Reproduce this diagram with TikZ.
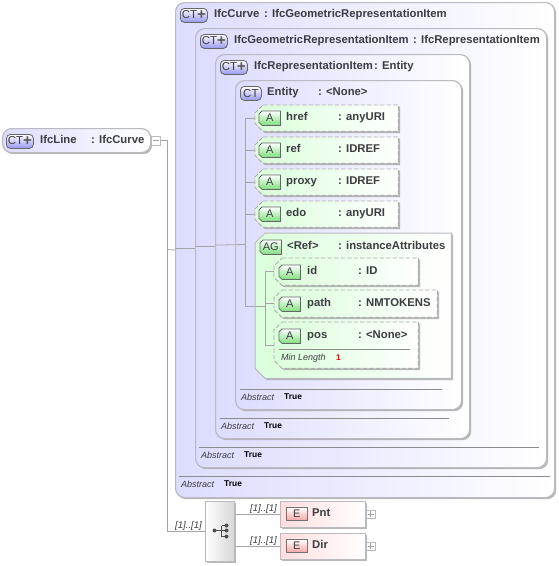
\documentclass[tikz,border=0pt]{standalone}
\usepackage{fontspec}
\setmainfont{Liberation Sans}
\usetikzlibrary{shadows}
\definecolor{edgegray}{RGB}{186,186,192}
\definecolor{linkgray}{RGB}{165,165,165}
\definecolor{textgray}{RGB}{60,60,65}
\definecolor{lavender}{RGB}{220,220,255}
\definecolor{badgeblue}{RGB}{150,150,240}
\definecolor{mint}{RGB}{218,255,218}
\definecolor{badgegreen}{RGB}{125,222,125}
\definecolor{rose}{RGB}{255,222,222}
\definecolor{badgered}{RGB}{248,165,165}
\tikzset{
  boxshadow/.style={drop shadow={shadow xshift=1.6pt,shadow yshift=-1.6pt,fill=black!35,opacity=.8}},
  ctbox/.style={draw=edgegray,line width=1.2pt,rounded corners=9pt,anchor=north west,inner sep=0pt,
    left color=lavender,right color=white,boxshadow},
  holder/.style={anchor=north west,inner sep=0pt},
  attrbox/.style={draw=black!32,line width=.9pt,dash pattern=on 4.5pt off 2pt,left color=mint,right color=white,boxshadow},
  agbox/.style={draw=edgegray,line width=1pt,left color=mint,right color=white,boxshadow},
  abadge/.style={draw=black!60,line width=.8pt,top color=white,bottom color=badgegreen},
  elbox/.style={draw=edgegray,line width=1pt,anchor=north west,inner sep=0pt,minimum width=85,minimum height=26,
    left color=rose,right color=white,boxshadow},
  seqbox/.style={draw=edgegray,line width=1pt,anchor=north west,inner sep=0pt,minimum width=29,minimum height=60,
    left color=white,right color=black!16,boxshadow},
  foldbox/.style={draw=edgegray,line width=.7pt,fill=white,anchor=north west,inner sep=0pt,minimum width=9,minimum height=9},
  ctbadge/.style={draw=black!60,line width=.8pt,rounded corners=4pt,anchor=north west,inner sep=0pt,minimum height=14,
    top color=white,bottom color=badgeblue,text=textgray,font=\fontsize{11.5}{12}\selectfont},
  ebadge/.style={draw=black!55,line width=.8pt,anchor=north west,inner sep=0pt,minimum width=21,minimum height=13,
    top color=white,bottom color=badgered,text=textgray,font=\fontsize{11}{11}\selectfont},
  letter/.style={inner sep=0pt,text=textgray,font=\fontsize{11}{11}\selectfont},
  tag/.style={anchor=base west,inner sep=0pt,text=textgray,font=\bfseries\fontsize{11.3}{12}\selectfont},
  note/.style={anchor=base west,inner sep=0pt,text=textgray,font=\itshape\fontsize{9}{10}\selectfont},
  value/.style={anchor=base west,inner sep=0pt,text=black,font=\bfseries\fontsize{8.4}{10}\selectfont},
  card/.style={anchor=base west,inner sep=0pt,text=textgray,font=\itshape\fontsize{9.6}{10}\selectfont},
  link/.style={draw=linkgray,line width=.8pt},
  rule/.style={draw=black!45,line width=.6pt}
}
% box with its two left corners cut off: look, cut, name, position, width, height
\newcommand\cutbox[6]{%
  \node[holder,minimum width=#5,minimum height=#6] (#3) at (#4) {};
  \path[#1] ([xshift=#2]#3.north west) -- (#3.north east) -- (#3.south east) -- ([xshift=#2]#3.south west)
    -- ([yshift=#2]#3.south west) -- ([yshift=-#2]#3.north west) -- cycle;
}
\newcommand\plusglyph{\raisebox{-1pt}{\textcolor{black!65}{\bfseries\fontsize{15}{15}\selectfont+}}}
\begin{document}
\begin{tikzpicture}[x=1pt,y=-1pt]
\useasboundingbox (0,0) rectangle (559,566);
% nested type boxes
\node[ctbox,minimum width=148,minimum height=24] (line) at (2,128) {};
\node[foldbox] (linefold) at (151,136) {};
\node[ctbox,minimum width=379,minimum height=495] (curve) at (175,2) {};
\node[ctbox,minimum width=351,minimum height=439] (geo) at (195,28) {};
\node[ctbox,minimum width=254,minimum height=384] (rep) at (215,54) {};
\node[ctbox,minimum width=226,minimum height=329] (entity) at (235,80) {};
% attributes
\cutbox{attrbox}{8pt}{href}{255,105}{143}{26}
\cutbox{attrbox}{8pt}{ref}{255,137}{143}{26}
\cutbox{attrbox}{8pt}{proxy}{255,169}{143}{26}
\cutbox{attrbox}{8pt}{edo}{255,201}{143}{26}
\cutbox{agbox}{10pt}{group}{255,233}{196}{145}
\cutbox{attrbox}{8pt}{id}{274,258}{144}{27}
\cutbox{attrbox}{8pt}{path}{274,290}{163}{27}
\cutbox{attrbox}{8pt}{pos}{274,322}{144}{46}
% sequence and elements
\node[seqbox] (seq) at (205,501) {};
\node[elbox] (pnt) at (280,501) {};
\node[elbox] (dir) at (280,533) {};
\node[foldbox,minimum height=8] (pntfold) at (366,510) {};
\node[foldbox,minimum height=8] (dirfold) at (366,542) {};
% connectors
\coordinate (spine) at (167.5,249.5);
\coordinate (trunk) at (245.5,244.5);
\coordinate (join) at (265,306);
\draw[link] (linefold.east) -| (spine) |- (seq.west);
\draw[link] (spine) -- (curve.west);
\draw[link] (curve.west |- geo.west) -- (geo.west);
\draw[link] (geo.west |- rep.west) -- (rep.west);
\draw[link] (rep.west |- entity.west) -- (trunk);
\draw[link] (href.west) -| (trunk);
\draw[link] (ref.west) -| (trunk);
\draw[link] (proxy.west) -| (trunk);
\draw[link] (edo.west) -| (trunk);
\draw[link] (trunk) |- (join);
\draw[link] (id.west) -| (join);
\draw[link] (pos.west) -| (join);
\draw[link] (join |- path.west) -- (path.west);
\draw[link] (seq.east |- pnt.west) -- (pnt.west);
\draw[link] (seq.east |- dir.west) -- (dir.west);
% fold marks and tree icon
\draw[linkgray,line width=.8pt] (linefold.center)+(-3,0) -- +(3,0);
\draw[linkgray,line width=.8pt] (pntfold.center)+(-3,0) -- +(3,0) (pntfold.center)+(0,-3) -- +(0,3);
\draw[linkgray,line width=.8pt] (dirfold.center)+(-3,0) -- +(3,0) (dirfold.center)+(0,-3) -- +(0,3);
\draw[black!70,line width=.8pt] (214.5,530.5) -- (226.5,530.5) (221.5,525.5) -- (221.5,536.5) (221.5,525.5) -- (226.5,525.5) (221.5,536.5) -- (226.5,536.5);
\fill[black!70] (214.5,530.5) circle (2) (226.5,525.5) circle (2) (226.5,530.5) circle (2) (226.5,536.5) circle (2);
% badges
\node[ctbadge,minimum width=27] (linebadge) at (6,134) {CT\plusglyph};
\node[ctbadge,minimum width=27] (curvebadge) at (180,8) {CT\plusglyph};
\node[ctbadge,minimum width=27] (geobadge) at (200,34) {CT\plusglyph};
\node[ctbadge,minimum width=27] (repbadge) at (220,60) {CT\plusglyph};
\node[ctbadge,minimum width=21] (entitybadge) at (240,86) {CT};
\cutbox{abadge}{3pt}{hrefbadge}{259,111}{21}{14}
\cutbox{abadge}{3pt}{refbadge}{259,143}{21}{14}
\cutbox{abadge}{3pt}{proxybadge}{259,175}{21}{14}
\cutbox{abadge}{3pt}{edobadge}{259,207}{21}{14}
\cutbox{abadge}{3pt}{groupbadge}{260,240}{21}{14}
\cutbox{abadge}{3pt}{idbadge}{279,265}{21}{14}
\cutbox{abadge}{3pt}{pathbadge}{279,297}{21}{14}
\cutbox{abadge}{3pt}{posbadge}{279,329}{21}{14}
\node[letter] (hrefletter) at (hrefbadge.center) {A};
\node[letter] (refletter) at (refbadge.center) {A};
\node[letter] (proxyletter) at (proxybadge.center) {A};
\node[letter] (edoletter) at (edobadge.center) {A};
\node[letter] (groupletter) at (groupbadge.center) {AG};
\node[letter] (idletter) at (idbadge.center) {A};
\node[letter] (pathletter) at (pathbadge.center) {A};
\node[letter] (posletter) at (posbadge.center) {A};
\node[ebadge] (pntbadge) at (286,507) {E};
\node[ebadge] (dirbadge) at (286,539) {E};
% names and types
\node[tag] (linename) at (40,143.5) {IfcLine};
\node[tag] (linetype) at (91,143.5) {: IfcCurve};
\node[tag] (curvename) at (214,17.5) {IfcCurve};
\node[tag] (curvetype) at (264,17.5) {: IfcGeometricRepresentationItem};
\node[tag] (geoname) at (234,43.5) {IfcGeometricRepresentationItem};
\node[tag] (geotype) at (413,43.5) {: IfcRepresentationItem};
\node[tag] (repname) at (254,69.5) {IfcRepresentationItem};
\node[tag] (reptype) at (374,69.5) {: Entity};
\node[tag] (entityname) at (267,95.5) {Entity};
\node[tag] (entitytype) at (318,95.5) {: <None>};
\node[tag] (hrefname) at (286,120.5) {href};
\node[tag] (hreftype) at (338,120.5) {: anyURI};
\node[tag] (refname) at (286,152.5) {ref};
\node[tag] (reftype) at (338,152.5) {: IDREF};
\node[tag] (proxyname) at (286,184.5) {proxy};
\node[tag] (proxytype) at (338,184.5) {: IDREF};
\node[tag] (edoname) at (286,216.5) {edo};
\node[tag] (edotype) at (338,216.5) {: anyURI};
\node[tag] (groupname) at (287,249.5) {<Ref>};
\node[tag] (grouptype) at (338,249.5) {: instanceAttributes};
\node[tag] (idname) at (307,274.5) {id};
\node[tag] (idtype) at (358,274.5) {: ID};
\node[tag] (pathname) at (307,306.5) {path};
\node[tag] (pathtype) at (358,306.5) {: NMTOKENS};
\node[tag] (posname) at (307,338.5) {pos};
\node[tag] (postype) at (358,338.5) {: <None>};
\node[tag] (pntname) at (312,516.5) {Pnt};
\node[tag] (dirname) at (312,548.5) {Dir};
% facets
\draw[rule] (279,349.5) -- (410,349.5);
\node[note] (minnote) at (281,360) {Min Length};
\node[value,text=red] (minvalue) at (336,360) {1};
\draw[rule] (240,389.5) -- (442,389.5);
\node[note] (entitynote) at (241,400) {Abstract};
\node[value] (entityvalue) at (284,399) {True};
\draw[rule] (220,418.5) -- (449,418.5);
\node[note] (repnote) at (221,429) {Abstract};
\node[value] (repvalue) at (264,428) {True};
\draw[rule] (199,447.5) -- (539,447.5);
\node[note] (geonote) at (201,458) {Abstract};
\node[value] (geovalue) at (244,457) {True};
\draw[rule] (179,476.5) -- (550,476.5);
\node[note] (curvenote) at (181,487) {Abstract};
\node[value] (curvevalue) at (224,486) {True};
% cardinalities
\node[card] (seqcard) at (175,528) {[1]..[1]};
\node[card] (pntcard) at (250,511) {[1]..[1]};
\node[card] (dircard) at (250,543) {[1]..[1]};
\end{tikzpicture}
\end{document}
